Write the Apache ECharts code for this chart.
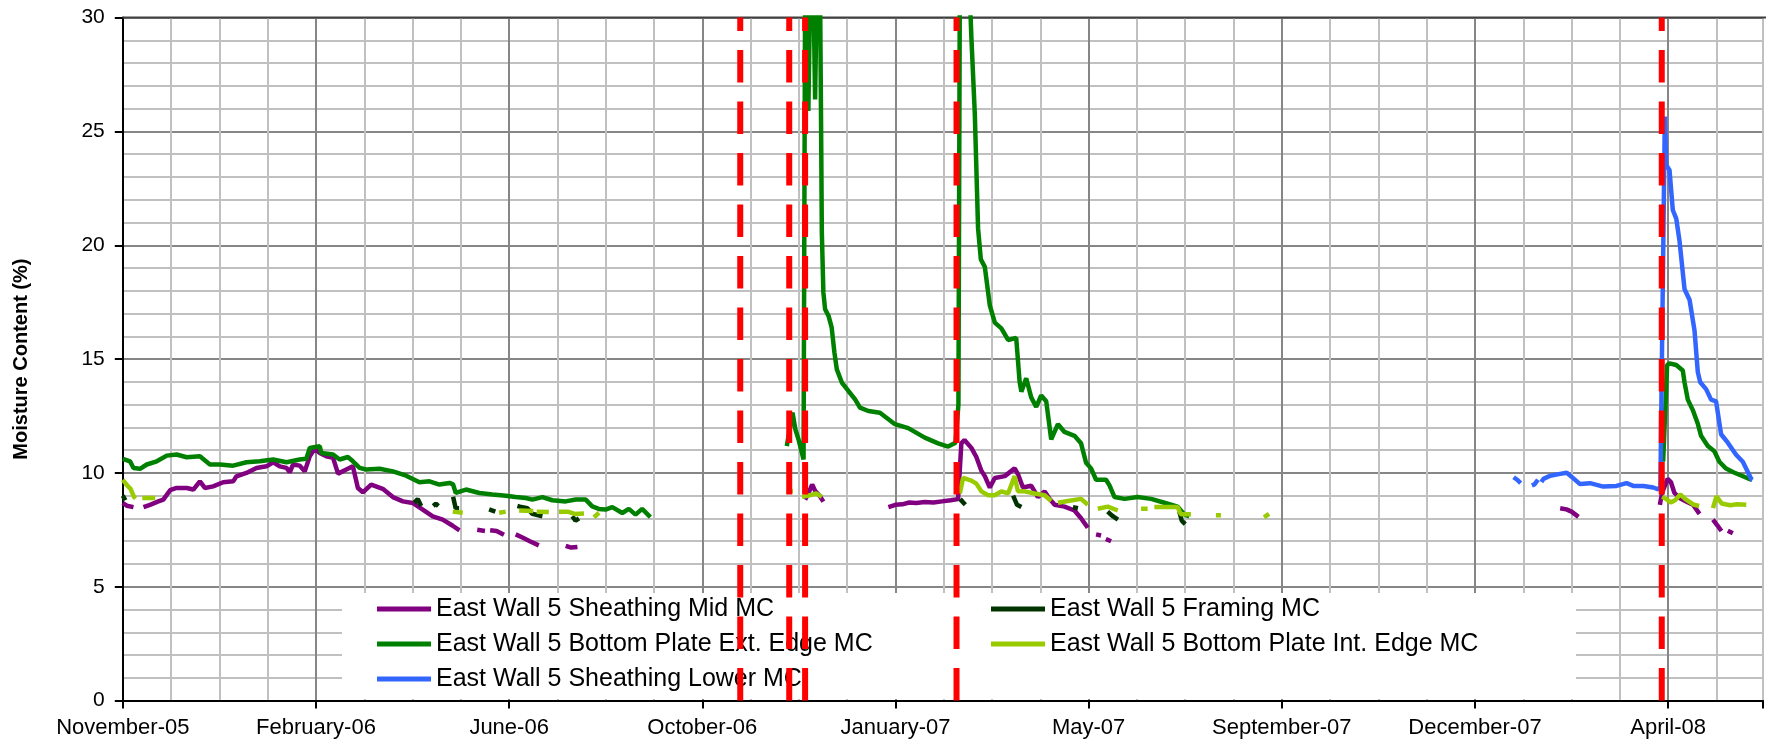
<!DOCTYPE html>
<html>
<head>
<meta charset="utf-8">
<title>East Wall 5 Moisture Content</title>
<script src="https://cdn.jsdelivr.net/npm/echarts@6/dist/echarts.min.js"></script>
<style>
  html, body { margin: 0; padding: 0; background: #fff; }
  #chart { width: 1766px; height: 745px; }
</style>
</head>
<body>
<div id="chart"></div>
<script>
// x values are days counted from 1 November 2005, null = gap in the logger record
var xTickLabels = ['November-05', 'February-06', 'June-06', 'October-06', 'January-07',
                   'May-07', 'September-07', 'December-07', 'April-08'];
var eventDays = [358, 386.4, 395.6, 483.4, 892.3];

var sheathingMid = [
  [0, 8.68], [2.3, 8.56], [6.2, 8.5], null,
  [12, 8.5], [15.8, 8.6], [20.6, 8.75], [23.5, 8.83], [27.4, 9.24], [31.2, 9.34], [37, 9.34],
  [40.9, 9.27], [44.7, 9.63], [47.6, 9.34], [52.4, 9.41], [58.2, 9.59], [64, 9.63], [65.9, 9.85],
  [71.7, 10.0], [77.5, 10.22], [83.3, 10.29], [87.2, 10.47], [91, 10.29], [94.9, 10.22], [96.8, 10.03],
  [98.7, 10.37], [102.6, 10.32], [105.5, 10.07], [108.4, 10.73], [111.3, 11.06], [114.2, 10.88],
  [118, 10.73], [121.9, 10.66], [124.8, 9.97], [129.6, 10.15], [133.4, 10.29], [136.3, 9.34],
  [139.2, 9.15], [144, 9.49], [150.7, 9.3], [156.6, 8.94], [162.4, 8.75], [168.1, 8.68], [173.9, 8.39],
  [179.7, 8.09], [185.5, 7.95], [191.3, 7.68], [195.2, 7.48], null,
  [205.5, 7.5], [210, 7.45], null, [213, 7.48], [216.7, 7.45], [221, 7.28], null,
  [227.8, 7.3], [232, 7.15], [236, 7.0], [241.2, 6.82], null,
  [256.8, 6.8], [260, 6.72], [263.6, 6.75], null,
  [395.6, 8.83], [397.5, 9.1], [399.7, 9.49], [401.5, 9.2], [404, 9.0], [406.2, 8.74], null,
  [443.9, 8.5], [448, 8.6], [452, 8.62], [456, 8.7], [460, 8.68], [465, 8.72], [470, 8.7], [475, 8.75],
  [480, 8.8], [484.3, 8.85], [486.2, 11.3], [488, 11.45], [492, 11.1], [494.9, 10.7], [497.8, 10.1],
  [499.8, 9.86], [502.7, 9.36], [505.6, 9.78], [511.4, 9.86], [517.1, 10.2], [519, 9.95], [521.9, 9.36],
  [526.7, 9.44], [530.6, 8.94], [534.5, 9.19], [537.4, 8.86], [540.3, 8.6], [546, 8.52], [551.8, 8.35],
  [555.6, 8.01], [559.5, 7.59], null,
  [564.3, 7.3], [567.2, 7.25], null, [570, 7.1], [573, 7.0], null,
  [833.4, 8.45], [837, 8.4], [840, 8.3], [844, 8.07], null,
  [891.2, 8.6], [892.5, 9.13], [895.7, 9.74], [897.6, 9.6], [899.6, 9.13], [902.6, 8.9], [906.4, 8.75],
  [910.4, 8.6], [914.2, 8.2], null,
  [922, 7.95], [924.5, 7.7], [926.9, 7.45], null,
  [930.6, 7.46], [933.5, 7.35]
];

var framing = [
  [0, 9.0], [1.5, 8.8], null,
  [169, 8.7], [171, 8.85], [173, 8.55], null,
  [180, 8.55], [181.5, 8.65], [183, 8.55], null,
  [191.5, 8.95], [193, 8.45], [195, 8.45], null,
  [212.4, 8.4], [216, 8.3], null,
  [228.8, 8.55], [231, 8.5], [234.6, 8.45], [237.5, 8.2], [240.4, 8.15], [243.3, 8.1], null,
  [260.6, 8.1], [262.5, 7.9], [264.5, 8.0], null,
  [485.5, 8.85], [488.5, 8.6], null,
  [516.2, 9.0], [518.5, 8.6], [521, 8.5], null,
  [550.9, 8.5], [553.8, 8.45], null,
  [571, 8.3], [574, 8.1], [577, 7.95], null,
  [612.6, 8.3], [614, 7.9], [616, 7.75]
];

var bottomPlateExt = [
  [0, 10.62], [4.2, 10.51], [6.2, 10.22], [10, 10.18], [13.9, 10.37], [19.7, 10.51], [25.5, 10.76],
  [31.2, 10.81], [37, 10.69], [44.7, 10.73], [50.5, 10.37], [56.3, 10.37], [64, 10.32], [71.7, 10.47],
  [79.4, 10.51], [87.2, 10.59], [94.9, 10.47], [102.6, 10.59], [106.4, 10.62], [108.4, 11.1],
  [114.2, 11.17], [115.1, 10.88], [121.9, 10.81], [125.7, 10.59], [130.5, 10.7], [133.4, 10.51],
  [137.3, 10.22], [141.1, 10.15], [148.9, 10.18], [156.6, 10.07], [164.3, 9.88], [172, 9.59],
  [177.8, 9.63], [183.6, 9.49], [189.4, 9.56], [191.5, 9.5], [193, 9.12], [199, 9.27], [206.7, 9.12],
  [214.3, 9.05], [222.1, 9.0], [227.8, 8.94], [233.6, 8.9], [237.5, 8.83], [243.3, 8.94], [249, 8.8],
  [256.8, 8.75], [262.6, 8.83], [268.4, 8.83], [272.2, 8.53], [276, 8.42], [279.9, 8.39], [283.8, 8.5],
  [289.6, 8.24], [293.4, 8.42], [297.3, 8.17], [301.1, 8.42], [305.9, 8.06], null,
  [385, 11.18], [388.3, 12.65], [390, 11.9], [391.8, 11.47], [394.7, 10.59], [395.6, 31], [396.8, 31],
  [397.5, 25.9], [398.5, 31], [400.5, 31], [401.4, 26.4], [402.3, 31], [404.3, 31], [404.9, 24.97],
  [405.3, 20.57], [406.2, 17.93], [407.2, 17.19], [409.2, 16.9], [411, 16.39], [412.6, 15.29],
  [414, 14.55], [416.9, 13.97], [420.7, 13.6], [424.6, 13.23], [427.4, 12.87], [432.3, 12.72],
  [439, 12.64], [447.7, 12.14], [455.4, 11.97], [465, 11.55], [472.7, 11.3], [478.5, 11.16],
  [482.8, 11.33], [484.5, 13], [485.3, 31], [491.1, 31], [492, 29.15], [494, 25.78], [495.9, 20.73],
  [497.5, 19.38], [499.8, 19.05], [502.7, 17.36], [505.6, 16.6], [509.4, 16.35], [513.3, 15.84],
  [518, 15.93], [520, 13.99], [521, 13.57], [523.8, 14.16], [526.7, 13.32], [529.6, 12.9], [532.5, 13.4],
  [535.4, 13.15], [538.3, 11.47], [542.2, 12.14], [546, 11.8], [551.8, 11.63], [555.6, 11.3],
  [558.5, 10.45], [561.4, 10.2], [564.3, 9.7], [570.1, 9.7], [572.1, 9.45], [575, 8.94], [580.8, 8.86],
  [588.4, 8.94], [596.2, 8.86], [603.9, 8.69], [611.6, 8.52], [615.5, 8.18], [618.4, 8.09], null,
  [893.1, 10.49], [894, 12.16], [895.4, 14.74], [896.8, 14.81], [900.7, 14.74], [904.5, 14.5],
  [905.5, 13.98], [907.4, 13.22], [910.3, 12.76], [913.2, 12.16], [915.1, 11.63], [919, 11.18],
  [922.8, 10.95], [925.7, 10.49], [929.6, 10.19], [933.5, 10.04], [937.3, 9.92], [943.1, 9.74], [944.6, 9.7]
];

var bottomPlateInt = [
  [0, 9.7], [2.5, 9.45], [4.5, 9.3], [6.5, 8.95], [7.5, 8.88], null,
  [11.3, 8.9], [18.8, 8.9], null,
  [191.3, 8.3], [197.1, 8.25], null,
  [218.2, 8.25], [222, 8.3], null,
  [229.8, 8.35], [238, 8.33], null, [240, 8.3], [247, 8.28], null,
  [252.9, 8.3], [258, 8.3], [262, 8.2], [267.4, 8.22], null,
  [273.2, 8.05], [276.1, 8.25], null,
  [385, 9.2], [388.5, 9.2], null,
  [393.8, 8.95], [397, 9.0], [400, 9.05], [402, 9.1], [405.3, 8.95], null,
  [485.3, 9.1], [487.2, 9.78], [492, 9.66], [494.9, 9.53], [497.8, 9.19], [501.7, 9.02], [505.6, 9.02],
  [509.4, 9.19], [513.3, 9.1], [517.1, 9.86], [519, 9.19], [522.9, 9.19], [528.7, 9.1], [534.5, 9.02],
  [538.3, 8.77], null,
  [542.2, 8.69], [548, 8.77], [555.6, 8.86], [559.5, 8.6], null,
  [565.3, 8.43], [571.1, 8.52], [576.9, 8.35], null,
  [590.4, 8.43], [594.2, 8.43], null,
  [598.1, 8.5], [605, 8.5], [611.6, 8.5], [613.5, 8.18], [619.3, 8.18], null,
  [633.8, 8.14], [636.7, 8.14], null,
  [661.7, 8.05], [664.6, 8.2], null,
  [892.5, 8.95], [895, 8.85], [897.5, 8.7], [900, 8.8], [903, 9.05], [906, 8.85], [909, 8.7],
  [911, 8.6], [914, 8.55], null,
  [922, 8.45], [924, 8.97], [927, 8.66], [932, 8.58], [936, 8.62], [941.3, 8.6]
];

var sheathingLower = [
  [806.4, 9.81], [808.5, 9.7], [810.5, 9.55], null,
  [817, 9.45], [818.5, 9.5], [820.5, 9.7], null,
  [822.5, 9.6], [823.7, 9.74], [827.6, 9.88], [833.4, 9.96], [837.2, 10.01], [841.1, 9.76],
  [844.9, 9.51], [850.7, 9.55], [858.4, 9.4], [866.1, 9.43], [871.9, 9.55], [875.8, 9.43],
  [881.6, 9.43], [887.4, 9.36], [890.3, 9.28], [891.5, 9.4], [893.5, 22], [894.1, 25.65],
  [894.5, 24.59], [894.9, 23.53], [896.8, 23.3], [898.7, 21.55], [900.7, 21.17], [902.6, 20.19],
  [905.5, 18.07], [908.4, 17.61], [911.3, 16.25], [913.2, 14.43], [914.6, 13.98], [918, 13.68],
  [920.9, 13.22], [923.8, 13.14], [926.7, 11.7], [930.6, 11.33], [935.4, 10.8], [939.3, 10.49],
  [944.1, 9.74], [945, 9.7]
];

var seriesNames = [
  'East Wall 5 Sheathing Mid MC',
  'East Wall 5 Framing MC',
  'East Wall 5 Bottom Plate Ext. Edge MC',
  'East Wall 5 Bottom Plate Int. Edge MC',
  'East Wall 5 Sheathing Lower MC'
];
var seriesData = [sheathingMid, framing, bottomPlateExt, bottomPlateInt, sheathingLower];
var seriesColors = ['#800080', '#003300', '#008000', '#99cc00', '#3366ff'];

var FONT = '"Liberation Sans", Arial, sans-serif';
var X_MAX = 951;

function withGaps(points) {
  var out = [];
  for (var i = 0; i < points.length; i++) {
    if (points[i] === null) out.push([points[i - 1][0], '-']);
    else out.push(points[i]);
  }
  return out;
}

var eventLine = [];
eventDays.forEach(function (d) {
  eventLine.push([d, 0], [d, 30], [d, '-']);
});

var series = [];
for (var i = 0; i < seriesNames.length; i++) {
  series.push({
    name: seriesNames[i],
    type: 'line',
    data: withGaps(seriesData[i]),
    showSymbol: false,
    symbol: 'none',
    color: seriesColors[i],
    lineStyle: { width: 4.5, color: seriesColors[i] },
    z: 3 + i
  });
}
series.push({
  name: 'events',
  type: 'line',
  data: eventLine,
  showSymbol: false,
  symbol: 'none',
  lineStyle: { width: 6, color: '#ff0000', type: [32.5, 19], cap: 'butt' },
  z: 10
});

var legendText = { fontSize: 25, fontFamily: FONT, color: '#000', lineHeight: 30 };

var chart = echarts.init(document.getElementById('chart'));
chart.setOption({
  animation: false,
  backgroundColor: '#fff',
  grid: { left: 122.8, top: 17.6, width: 1643.2, height: 683, containLabel: false },
  xAxis: [{
    // 4-week grid: every 4th line is a major (darker) one
    type: 'value', min: 0, max: X_MAX, interval: 28,
    axisLine: { show: false }, axisTick: { show: false }, axisLabel: { show: false },
    splitLine: { show: true, lineStyle: { color: ['#868686', '#c0c0c0', '#c0c0c0', '#c0c0c0'], width: 2 } }
  }, {
    type: 'value', min: 0, max: X_MAX, interval: 112, position: 'bottom',
    axisLine: { show: true, onZero: false, lineStyle: { color: '#000', width: 2 } },
    axisTick: { show: true, length: 8, lineStyle: { color: '#000', width: 2 } },
    axisLabel: {
      fontSize: 22, fontFamily: FONT, color: '#000', margin: 16,
      formatter: function (v) {
        var k = Math.round(v / 112);
        return (Math.abs(v - k * 112) < 0.01 && xTickLabels[k]) ? xTickLabels[k] : '';
      }
    },
    splitLine: { show: false }
  }],
  yAxis: {
    type: 'value', min: 0, max: 30, interval: 5,
    name: 'Moisture Content (%)', nameLocation: 'middle', nameGap: 91,
    nameTextStyle: { fontSize: 20, fontWeight: 'bold', fontFamily: FONT, color: '#000' },
    axisLine: { show: true, lineStyle: { color: '#000', width: 2 } },
    axisTick: { show: true, length: 8, lineStyle: { color: '#000', width: 2 } },
    axisLabel: { fontSize: 21, fontFamily: FONT, color: '#000', margin: 18 },
    splitLine: { show: true, lineStyle: { color: '#868686', width: 2 } },
    minorTick: { show: false, splitNumber: 5 },
    minorSplitLine: { show: true, lineStyle: { color: '#c0c0c0', width: 2 } }
  },
  graphic: [{
    type: 'rect', z: 1,
    shape: { x: 342, y: 593, width: 1234, height: 106 },
    style: { fill: '#fff' }
  }, {
    type: 'line', z: 1,
    shape: { x1: 122.8, y1: 17.6, x2: 1766, y2: 17.6 },
    style: { stroke: '#404040', lineWidth: 2 }
  }],
  legend: [{
    data: [seriesNames[0], seriesNames[2], seriesNames[4]],
    orient: 'vertical', left: 377, top: 594, padding: 0, itemGap: 5,
    icon: 'rect', itemWidth: 54, itemHeight: 5, selectedMode: false,
    textStyle: legendText
  }, {
    data: [seriesNames[1], seriesNames[3]],
    orient: 'vertical', left: 991, top: 594, padding: 0, itemGap: 5,
    icon: 'rect', itemWidth: 54, itemHeight: 5, selectedMode: false,
    textStyle: legendText
  }],
  series: series
});
</script>
</body>
</html>
